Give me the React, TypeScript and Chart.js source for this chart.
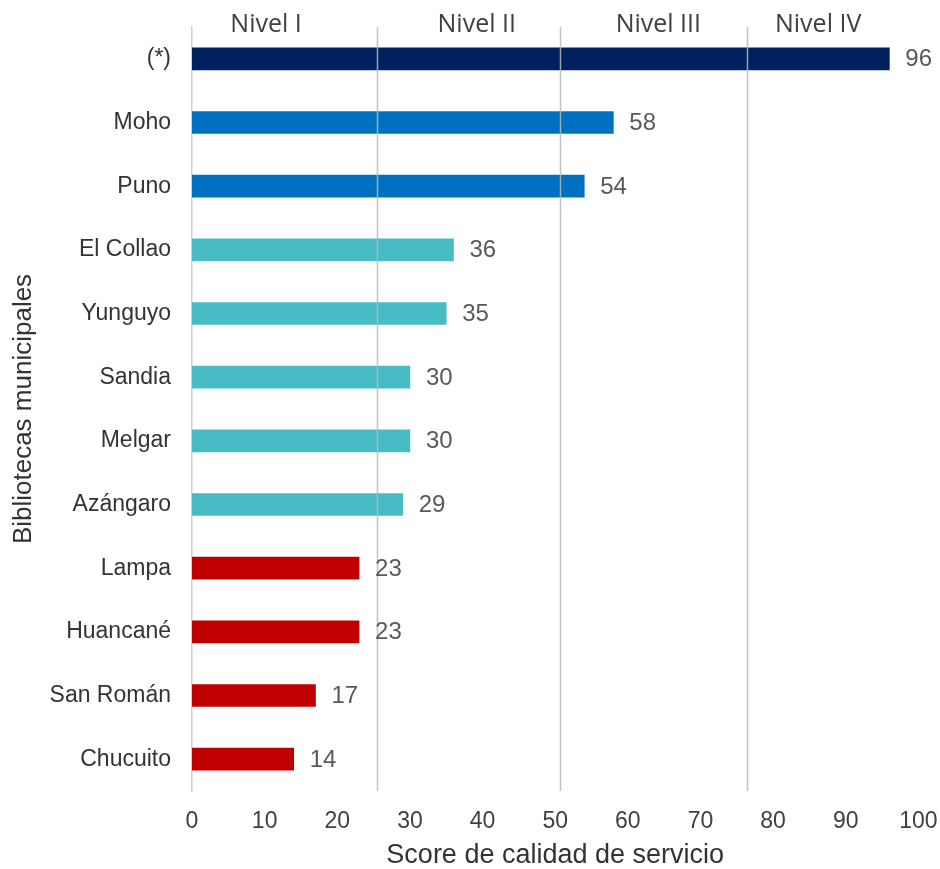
import React, { useEffect, useRef } from "react";
import { Chart, registerables } from "chart.js";

Chart.register(...registerables);

const categories = [
  "(*)",
  "Moho",
  "Puno",
  "El Collao",
  "Yunguyo",
  "Sandia",
  "Melgar",
  "Azángaro",
  "Lampa",
  "Huancané",
  "San Román",
  "Chucuito",
];
const scores = [96, 58, 54, 36, 35, 30, 30, 29, 23, 23, 17, 14];
const levelOfBar = [3, 2, 2, 1, 1, 1, 1, 1, 0, 0, 0, 0];
const levelNames = ["Nivel I", "Nivel II", "Nivel III", "Nivel IV"];
const levelColors = ["#C00000", "#48BCC5", "#0070C0", "#002060"];
const levelBounds = [25.4, 50.7, 76.4];
const levelLabelAt = [10.2, 39.2, 64.2, 86.2];
const xAxisTitle = "Score de calidad de servicio";
const yAxisTitle = "Bibliotecas municipales";

const SANS = "'Liberation Sans', Arial, sans-serif";

const levelPlugin = {
  id: "levels",
  afterDatasetsDraw(chart: any) {
    const { ctx, chartArea, scales } = chart;
    const x = scales.x;
    ctx.save();
    ctx.strokeStyle = "rgba(185,185,185,0.85)";
    ctx.lineWidth = 1.5;
    levelBounds.forEach((v) => {
      const px = Math.round(x.getPixelForValue(v)) + 0.5;
      ctx.beginPath();
      ctx.moveTo(px, chartArea.top);
      ctx.lineTo(px, chartArea.bottom);
      ctx.stroke();
    });
    // data labels
    const meta = chart.getDatasetMeta(0);
    ctx.fillStyle = "#595959";
    ctx.font = `24px ${SANS}`;
    ctx.textAlign = "left";
    ctx.textBaseline = "middle";
    meta.data.forEach((bar: any, i: number) => {
      ctx.fillText(String(scores[i]), bar.x + 16, bar.y + 1);
    });
    // level labels
    ctx.fillStyle = "#404040";
    ctx.font = `25px 'Open Sans', 'Noto Sans', sans-serif`;
    ctx.textAlign = "center";
    levelNames.forEach((name, i) => {
      ctx.fillText(name, x.getPixelForValue(levelLabelAt[i]), chartArea.top - 2);
    });
    ctx.restore();
  },
};

export default function App() {
  const ref = useRef<HTMLCanvasElement | null>(null);
  useEffect(() => {
    if (!ref.current) return;
    const chart = new Chart(ref.current, {
      type: "bar",
      data: {
        labels: categories,
        datasets: [
          {
            data: scores,
            backgroundColor: levelOfBar.map((l) => levelColors[l]),
            barThickness: 22,
          },
        ],
      },
      options: {
        indexAxis: "y",
        animation: false,
        responsive: false,
        devicePixelRatio: 1,
        layout: { padding: { top: 27, right: 21.6, bottom: 0, left: 0 } },
        plugins: { legend: { display: false }, tooltip: { enabled: false } },
        scales: {
          x: {
            min: 0,
            max: 100,
            ticks: {
              stepSize: 10,
              padding: 17,
              color: "#404040",
              font: { family: SANS, size: 23 },
            },
            grid: { display: false, drawTicks: false },
            border: { display: false },
            title: {
              display: true,
              text: xAxisTitle,
              color: "#333333",
              font: { family: SANS, size: 27, lineHeight: 1 },
              padding: { top: 0, bottom: 0 },
            },
            afterFit: (s: any) => {
              s.height = 78;
              s.paddingLeft = 0;
              s.paddingRight = 0;
            },
          },
          y: {
            ticks: {
              padding: 21,
              color: "#333333",
              font: { family: SANS, size: 23 },
            },
            grid: { display: false, drawTicks: false },
            border: { display: true, color: "#d0d0d0", width: 1.5 },
            title: {
              display: true,
              text: yAxisTitle,
              color: "#333333",
              font: { family: SANS, size: 26, lineHeight: 1 },
              padding: { top: 11, bottom: 0 },
            },
            afterFit: (s: any) => {
              s.width = 192;
              s.paddingTop = 0;
              s.paddingBottom = 0;
            },
          },
        },
      } as any,
      plugins: [levelPlugin],
    });
    return () => chart.destroy();
  }, []);
  return (
    <div style={{ position: "absolute", left: 0, top: 0, width: 940, height: 869, background: "#fff" }}>
      <canvas ref={ref} width={940} height={869} style={{ width: 940, height: 869, display: "block" }} />
    </div>
  );
}
